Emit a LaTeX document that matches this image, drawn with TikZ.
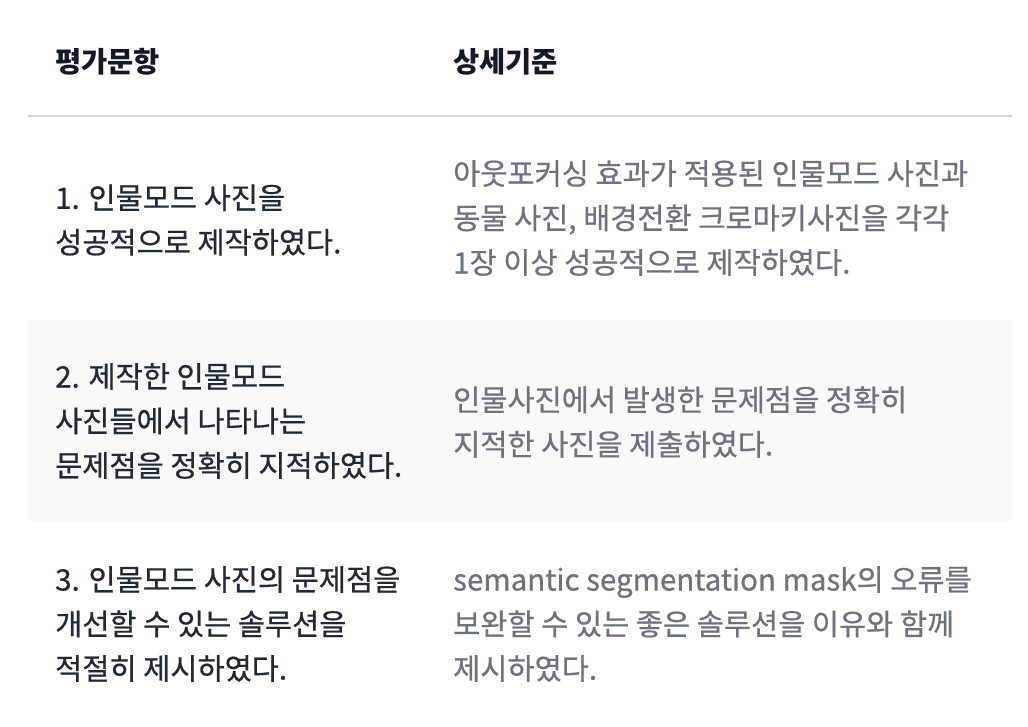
\documentclass[tikz,border=0pt]{standalone}
\usepackage{fontspec}
\setmainfont{Noto Sans CJK KR}
\newfontfamily\krmed{Noto Sans CJK KR}[FakeBold=0.6]
\usepackage{xcolor}

\definecolor{headtext}{HTML}{111827}
\definecolor{bodytext}{HTML}{1F2937}
\definecolor{softtext}{HTML}{6B7280}
\definecolor{ruleline}{HTML}{D1D5DB}
\definecolor{rowshade}{HTML}{F8F9FB}

\begin{document}
\begin{tikzpicture}[%
      x=1pt, y=-1pt,
      head/.style={anchor=west, inner sep=0pt, text=headtext,
        font=\fontsize{28.5}{30}\selectfont\bfseries},
      item/.style={anchor=west, inner sep=0pt, align=left, text=bodytext,
        font=\krmed\fontsize{29.5}{44.5}\selectfont},
      crit/.style={item, text=softtext},
      ]
      \useasboundingbox [fill=white] (0,0) rectangle (1028,726);

      \fill [rowshade] (28,320) rectangle (1012,521);
      \draw [color=ruleline, line width=1.5pt] (28,116) -- (1012,116);

      \node [head] (hq) at (55,62) {평가문항};
      \node [head] (hc) at (453,62) {상세기준};

      \node [item] (q1) at (55,220) {1. 인물모드 사진을\\성공적으로 제작하였다.};
      \node [crit] (c1) at (453,218) {아웃포커싱 효과가 적용된 인물모드 사진과\\동물 사진, 배경전환 크로마키사진을 각각\\1장 이상 성공적으로 제작하였다.};

      \node [item] (q2) at (55,421) {2. 제작한 인물모드\\사진들에서 나타나는\\문제점을 정확히 지적하였다.};
      \node [crit] (c2) at (453,422) {인물사진에서 발생한 문제점을 정확히\\지적한 사진을 제출하였다.};

      \node [item] (q3) at (55,624) {3. 인물모드 사진의 문제점을\\개선할 수 있는 솔루션을\\적절히 제시하였다.};
      \node [crit] (c3) at (453,624) {semantic segmentation mask의 오류를\\보완할 수 있는 좋은 솔루션을 이유와 함께\\제시하였다.};
      \end{tikzpicture}
\end{document}
